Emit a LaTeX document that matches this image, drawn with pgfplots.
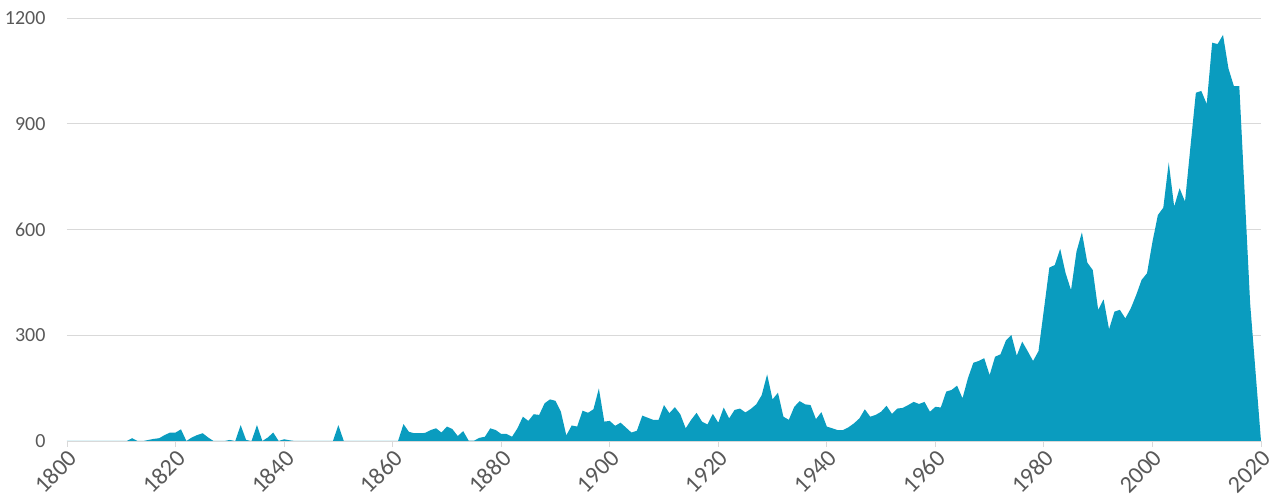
\documentclass[border=0pt]{standalone}
\usepackage{fontspec}
\setmainfont{Carlito}
\usepackage{pgfplots}
\usepackage{pgfplotstable}
\pgfplotsset{compat=1.18}
\definecolor{areac}{HTML}{0A9CBF}
\definecolor{gridc}{HTML}{D9D9D9}
\definecolor{labc}{HTML}{595959}
\pgfplotstableread{
year val
1800 0
1801 0
1802 0
1803 0
1804 0
1805 0
1806 0
1807 0
1808 0
1809 0
1810 0
1811 0
1812 8
1813 0
1814 0
1815 3
1816 6
1817 8
1818 17
1819 24
1820 24
1821 33
1822 0
1823 10
1824 17
1825 22
1826 10
1827 0
1828 0
1829 0
1830 3
1831 0
1832 45
1833 3
1834 0
1835 45
1836 0
1837 10
1838 24
1839 0
1840 5
1841 2
1842 0
1843 0
1844 0
1845 0
1846 0
1847 0
1848 0
1849 0
1850 45
1851 0
1852 0
1853 0
1854 0
1855 0
1856 0
1857 0
1858 0
1859 0
1860 0
1861 0
1862 48
1863 26
1864 22
1865 22
1866 23
1867 31
1868 36
1869 24
1870 41
1871 34
1872 14
1873 28
1874 1
1875 1
1876 9
1877 12
1878 36
1879 31
1880 20
1881 20
1882 12
1883 36
1884 69
1885 57
1886 76
1887 74
1888 107
1889 118
1890 114
1891 83
1892 16
1893 44
1894 41
1895 86
1896 80
1897 90
1898 149
1899 55
1900 57
1901 43
1902 52
1903 38
1904 24
1905 29
1906 72
1907 66
1908 60
1909 60
1910 102
1911 79
1912 96
1913 76
1914 36
1915 60
1916 80
1917 55
1918 47
1919 77
1920 52
1921 95
1922 64
1923 88
1924 92
1925 81
1926 91
1927 104
1928 130
1929 189
1930 118
1931 137
1932 69
1933 60
1934 97
1935 113
1936 104
1937 102
1938 62
1939 82
1940 41
1941 36
1942 31
1943 31
1944 39
1945 50
1946 64
1947 90
1948 69
1949 74
1950 83
1951 100
1952 77
1953 92
1954 94
1955 102
1956 111
1957 105
1958 111
1959 83
1960 97
1961 95
1962 140
1963 145
1964 157
1965 121
1966 178
1967 222
1968 227
1969 235
1970 187
1971 239
1972 246
1973 285
1974 301
1975 242
1976 282
1977 255
1978 227
1979 255
1980 373
1981 492
1982 499
1983 545
1984 476
1985 428
1986 537
1987 592
1988 506
1989 485
1990 372
1991 402
1992 317
1993 367
1994 372
1995 348
1996 376
1997 414
1998 457
1999 476
2000 565
2001 641
2002 662
2003 790
2004 665
2005 717
2006 679
2007 835
2008 988
2009 993
2010 956
2011 1130
2012 1126
2013 1152
2014 1057
2015 1007
2016 1007
2017 700
2018 390
2019 195
2020 0
}\datatable
\begin{document}
\begin{tikzpicture}
\begin{axis}[
  scale only axis,
  width=1194pt, height=423pt,
  xmin=1800, xmax=2020, ymin=0, ymax=1200,
  axis x line*=bottom, axis y line*=left,
  y axis line style={draw=none},
  x axis line style={draw=gridc, line width=0.9pt},
  xtick={1800,1820,...,2020},
  ytick={0,300,600,900,1200},
  ymajorgrids,
  major grid style={draw=gridc, line width=0.9pt},
  tick align=outside,
  major tick length=6pt,
  ytick style={draw=none},
  xtick style={draw=gridc, line width=0.9pt},
  /pgf/number format/assume math mode=true,
  /pgf/number format/1000 sep={},
  tick label style={text=labc},
  xticklabel style={font=\fontsize{24}{24}\selectfont, rotate=45, anchor=north east, inner sep=1pt},
  yticklabel style={font=\fontsize{20}{20}\selectfont, anchor=east, xshift=-12pt},
]
\addplot[fill=areac, draw=none] table[x=year, y=val]{\datatable} \closedcycle;
\end{axis}
\pgfresetboundingbox
\path[use as bounding box] ([shift={(-67pt,-61pt)}]current axis.south west) rectangle ([shift={(18pt,18pt)}]current axis.north east);
\end{tikzpicture}
\end{document}
